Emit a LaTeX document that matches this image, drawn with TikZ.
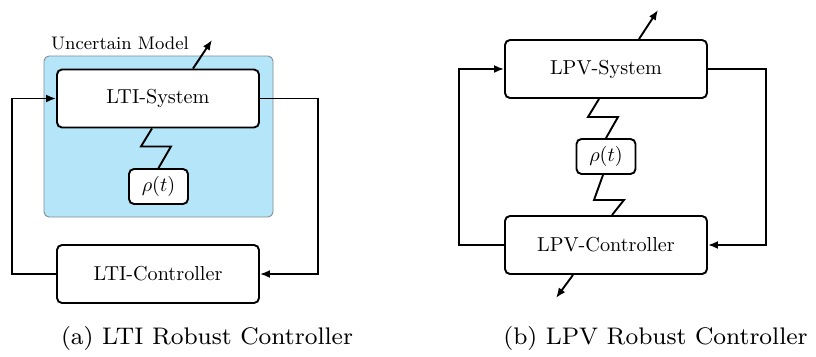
\documentclass[tikz,border=0pt]{standalone}
\usetikzlibrary{arrows.meta}
\definecolor{modelblue}{RGB}{181,229,248}
\definecolor{modelgray}{RGB}{130,140,145}
\newcommand{\bigtxt}[1]{\scalebox{2.02}{\fontsize{10}{12}\selectfont #1}}
\begin{document}
\begin{tikzpicture}[x=1pt,y=-1pt,
  blockbox/.style={draw=black,line width=1.9pt,rounded corners=5pt,fill=white,inner sep=0pt,
    minimum width=202pt,minimum height=58pt},
  parbox/.style={draw=black,line width=1.9pt,rounded corners=5pt,fill=white,inner sep=0pt,
    minimum width=59pt,minimum height=35pt},
  modelbox/.style={draw=modelgray,line width=0.9pt,rounded corners=5pt,fill=modelblue,inner sep=0pt,
    minimum width=229pt,minimum height=161pt},
  wire/.style={line width=1.9pt},
  arr/.style={wire,-{Latex[length=10pt,width=8pt]}}
]
\useasboundingbox (0,0) rectangle (816,356);
% ---------- (a) ----------
\node[modelbox] (model) at (158.5,136.5) {};
\node (mlabel) at (120,43) {\scalebox{2.02}{\fontsize{9}{11}\selectfont Uncertain Model}};
\node[blockbox] (ltisys) at (158,98.5) {\bigtxt{LTI-System}};
\node[blockbox] (lticon) at (158,274) {\bigtxt{LTI-Controller}};
\node[parbox] (rhoa) at (158.5,186.5) {\bigtxt{$\rho(t)$}};
\coordinate (outa) at (212,40);
\draw[arr] ([xshift=35pt]ltisys.north) -- (outa);
\draw[wire] ([xshift=-6pt]ltisys.south) -- ++(-11,18) -- ++(30,0) -- (rhoa.north);
\draw[arr] (lticon.west) -- (12,274) |- (ltisys.west);
\draw[arr] (ltisys.east) -- (318,98.5) |- (lticon.east);
% ---------- (b) ----------
\node[blockbox] (lpvsys) at (606,69) {\bigtxt{LPV-System}};
\node[blockbox] (lpvcon) at (606,245) {\bigtxt{LPV-Controller}};
\node[parbox] (rhob) at (606,156.5) {\bigtxt{$\rho(t)$}};
\coordinate (outb) at (658,10);
\coordinate (outc) at (556,298);
\draw[arr] ([xshift=33pt]lpvsys.north) -- (outb);
\draw[arr] ([xshift=-33pt]lpvcon.south) -- (outc);
\draw[wire] ([xshift=-7pt]lpvsys.south) -- ++(-11,18) -- ++(30,0) -- (rhob.north);
\draw[wire] ([xshift=-3pt]rhob.south) -- ++(-9,25) -- ++(30,0) -- ([xshift=6pt]lpvcon.north);
\draw[arr] (lpvcon.west) -- (459,245) |- (lpvsys.west);
\draw[arr] (lpvsys.east) -- (766,69) |- (lpvcon.east);
% ---------- captions ----------
\node (capa) at (207,338) {\scalebox{3.0}{\fontsize{8}{10}\selectfont (a) LTI Robust Controller}};
\node (capb) at (655.5,338) {\scalebox{3.0}{\fontsize{8}{10}\selectfont (b) LPV Robust Controller}};
\end{tikzpicture}
\end{document}
